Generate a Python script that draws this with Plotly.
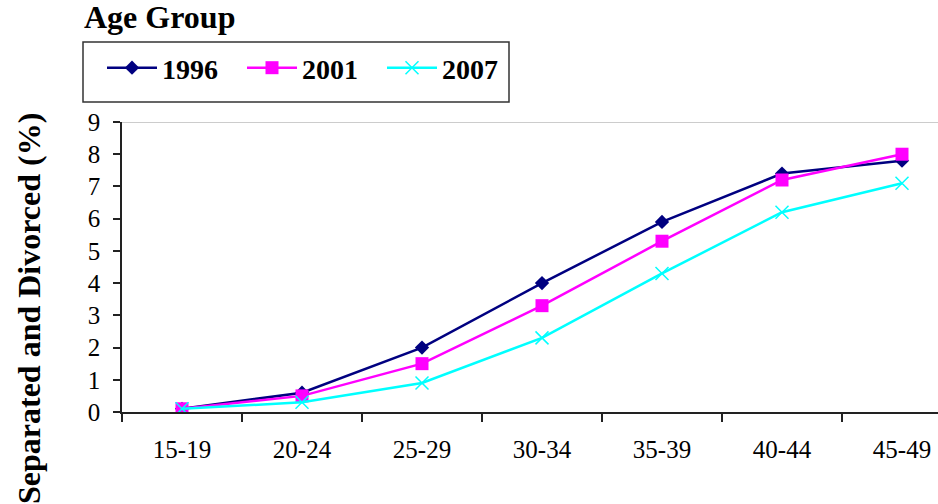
import plotly.graph_objects as go

# Age groups and share of separated/divorced people (%) by survey year
age_groups = ["15-19", "20-24", "25-29", "30-34", "35-39", "40-44", "45-49"]
pct_1996 = [0.1, 0.6, 2.0, 4.0, 5.9, 7.4, 7.8]
pct_2001 = [0.1, 0.5, 1.5, 3.3, 5.3, 7.2, 8.0]
pct_2007 = [0.1, 0.3, 0.9, 2.3, 4.3, 6.2, 7.1]
y_ticks = list(range(0, 10))

SERIF = "Liberation Serif"

# plot area in pixels (used for placing the legend frame and axis title)
L, T, B, W = 122, 122, 92, 816
PH = 504 - T - B


def px_x(x):
    return (x - L) / W


def px_y(y):
    return (504 - B - y) / PH


fig = go.Figure()
fig.add_trace(go.Scatter(
    x=age_groups, y=pct_1996, name="1996", mode="lines+markers",
    line=dict(color="#000080", width=2.5),
    marker=dict(symbol="diamond", size=11, color="#000080"),
))
fig.add_trace(go.Scatter(
    x=age_groups, y=pct_2001, name="2001", mode="lines+markers",
    line=dict(color="#FF00FF", width=2.5),
    marker=dict(symbol="square", size=13, color="#FF00FF"),
))
fig.add_trace(go.Scatter(
    x=age_groups, y=pct_2007, name="2007", mode="lines+markers",
    line=dict(color="#00FFFF", width=2.5),
    marker=dict(symbol="x-thin", size=13, color="#00FFFF",
                line=dict(color="#00FFFF", width=1.5)),
))

fig.update_layout(
    width=938, height=504,
    margin=dict(l=L, r=0, t=T, b=B),
    paper_bgcolor="white", plot_bgcolor="white",
    font=dict(family=SERIF, color="black"),
    title=dict(
        text="Age Group", xref="container", yref="container",
        x=84 / 938, xanchor="left", y=1 - 6 / 504, yanchor="top",
        font=dict(family=SERIF, size=32, weight="bold", color="black"),
    ),
    showlegend=True,
    legend=dict(
        orientation="h", xref="container", yref="container",
        x=102 / 938, xanchor="left", y=1 - 43 / 504, yanchor="top",
        font=dict(family=SERIF, size=28, weight="bold", color="black"),
        borderwidth=0, bgcolor="rgba(0,0,0,0)",
        itemwidth=50, entrywidth=75, entrywidthmode="pixels",
    ),
    xaxis=dict(
        type="category", range=[-0.5, 6.3],
        showline=True, linecolor="#222222", linewidth=1.5,
        ticks="outside", tickson="boundaries", ticklen=8,
        tickcolor="#222222", tickwidth=1.5, ticklabelstandoff=14,
        showgrid=False, zeroline=False,
        tickfont=dict(family=SERIF, size=25, color="black"),
    ),
    yaxis=dict(
        range=[0, 9], tickvals=y_ticks,
        showline=True, linecolor="#222222", linewidth=1.5,
        ticks="outside", ticklen=7, tickcolor="#222222", tickwidth=1.5,
        ticklabelstandoff=8,
        showgrid=False, zeroline=False,
        tickfont=dict(family=SERIF, size=25, color="black"),
    ),
    shapes=[
        # light frame line along the top of the plot area
        dict(type="line", xref="paper", yref="y", x0=0, x1=1, y0=9, y1=9,
             line=dict(color="#BBBBBB", width=1.5)),
        # legend frame
        dict(type="rect", xref="paper", yref="paper",
             x0=px_x(83), x1=px_x(509), y0=px_y(102), y1=px_y(42),
             line=dict(color="#333333", width=1.5), fillcolor="rgba(0,0,0,0)",
             layer="below"),
    ],
    annotations=[dict(
        text="Separated and Divorced (%)", textangle=-90,
        xref="paper", yref="paper", x=px_x(29), y=px_y(309),
        xanchor="center", yanchor="middle", showarrow=False,
        font=dict(family=SERIF, size=32, weight="bold", color="black"),
    )],
)

fig.write_html("out.html")
